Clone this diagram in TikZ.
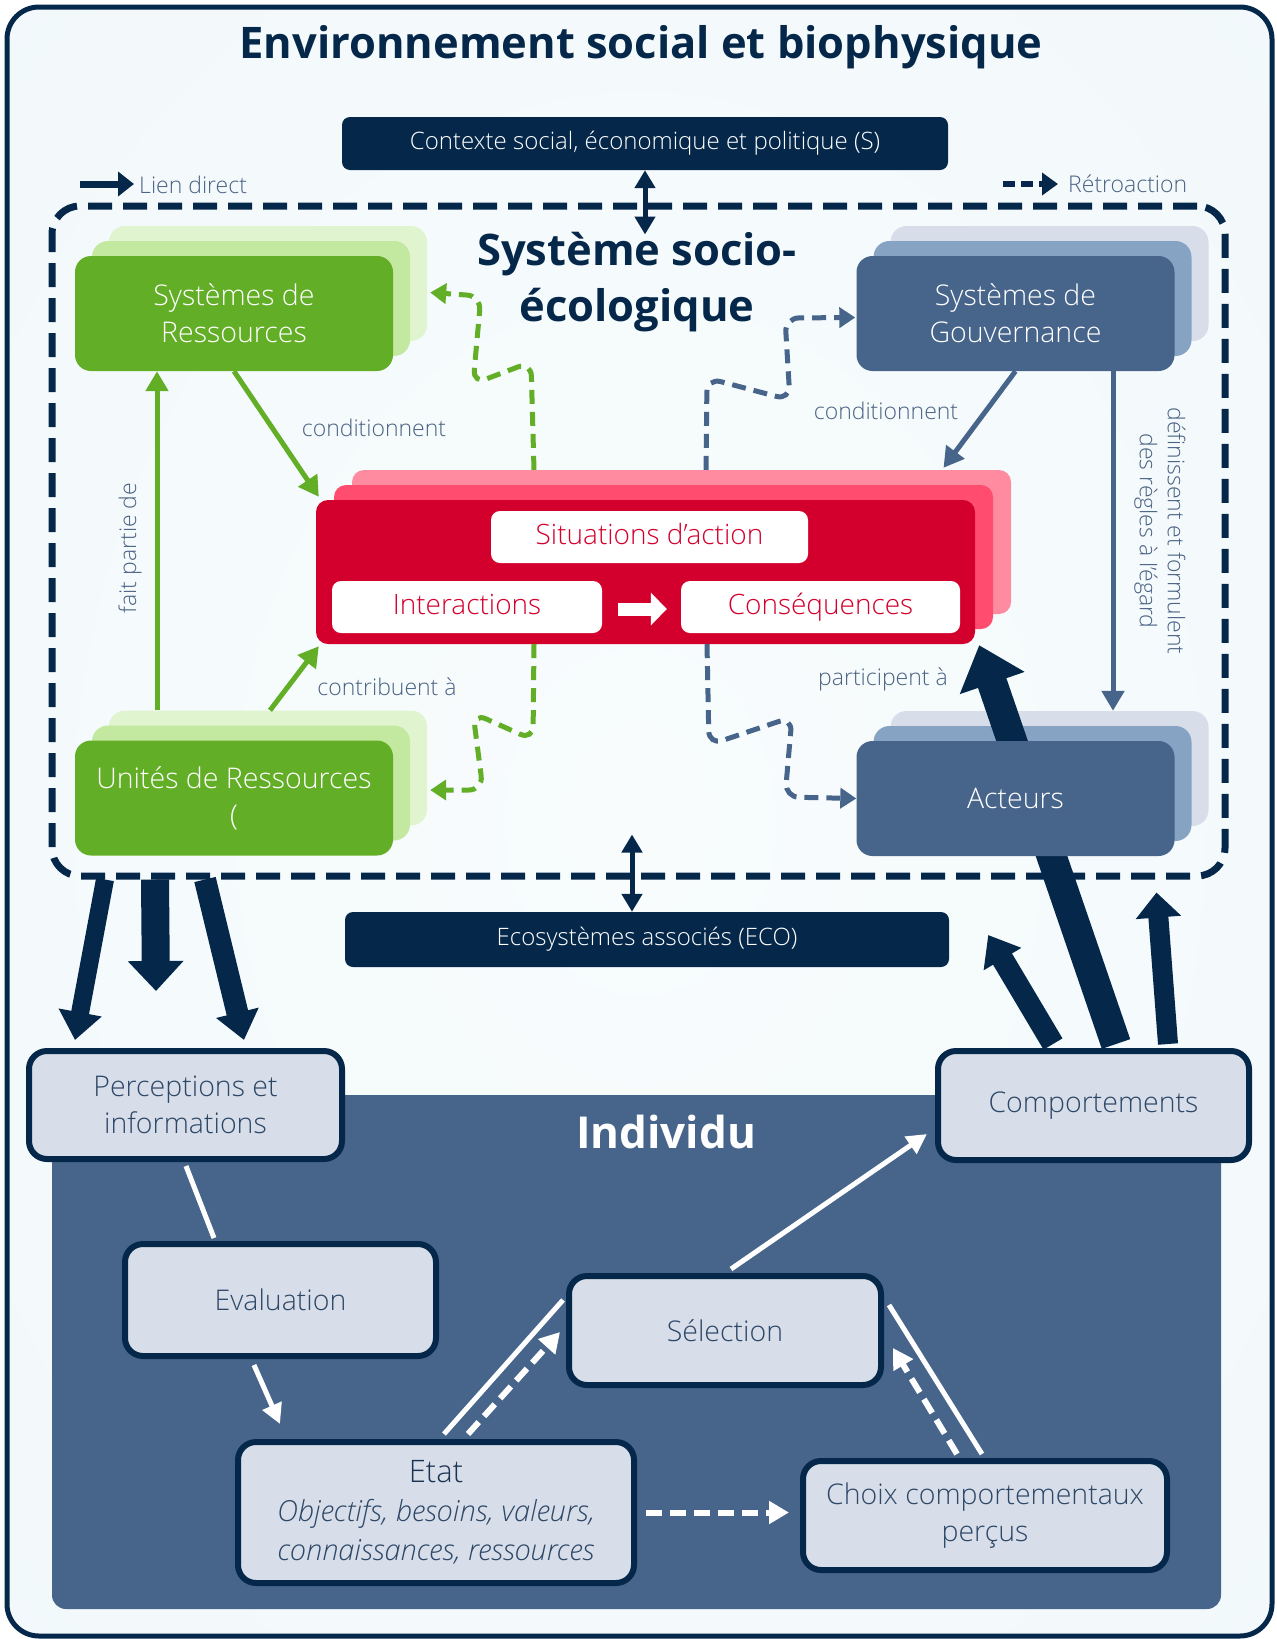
\documentclass[tikz,border=0pt]{standalone}
\usepackage{fontspec}
\setmainfont{Open Sans Light}[BoldFont={Open Sans Bold}, ItalicFont={Open Sans Light Italic}]
\usetikzlibrary{arrows.meta,calc}
\pgfdeclarelayer{background}
\pgfdeclarelayer{back}
\pgfdeclarelayer{mid}
\pgfsetlayers{background,back,mid,main}
\definecolor{navy}{HTML}{05284A}
\definecolor{slate}{HTML}{47658A}
\definecolor{labeltext}{HTML}{4A6283}
\definecolor{boxtext}{HTML}{2D4767}
\definecolor{etattext}{HTML}{1B3353}
\definecolor{green1}{HTML}{63AE27}
\definecolor{green2}{HTML}{C3E89F}
\definecolor{green3}{HTML}{E0F4CF}
\definecolor{blue2}{HTML}{87A3C4}
\definecolor{blue3}{HTML}{D7DEE9}
\definecolor{red1}{HTML}{D3002D}
\definecolor{red2}{HTML}{FF4C6F}
\definecolor{red3}{HTML}{FF8BA0}
\definecolor{lbox}{HTML}{D7DEE9}
\definecolor{bgin}{HTML}{F8FCFD}
\definecolor{bgmid}{HTML}{F3F9FB}
\definecolor{bgout}{HTML}{EBF5F9}
\definecolor{bgcorner}{HTML}{DCEEF6}
\pgfdeclareradialshading{bgshade}{\pgfpoint{0bp}{0bp}}{color(0bp)=(bgin); color(32bp)=(bgmid); color(50bp)=(bgout); color(71bp)=(bgcorner)}
\newcommand\fsz[2]{\fontsize{#1}{#2}\selectfont}
\tikzset{
 stackbox/.style={rectangle, rounded corners=16pt, minimum width=318pt, minimum height=115pt, inner sep=0pt, align=center, text=white, font=\fsz{28.5}{37}},
 lightbox/.style={rectangle, rounded corners=18pt, draw=navy, line width=6pt, fill=lbox, text=boxtext, align=center, font=\fsz{28.5}{37}, inner sep=0pt},
 darkbar/.style={rectangle, rounded corners=8pt, fill=navy, text=white, font=\fsz{24}{28}, inner sep=0pt},
 whitebox/.style={rectangle, rounded corners=9pt, fill=white, text=red1, font=\fsz{28}{34}, inner sep=0pt, minimum height=52pt, text height=21pt, text depth=7pt},
 lbl/.style={text=labeltext, font=\fsz{23}{28}, inner sep=0pt},
 garrow/.style={draw=green1, line width=5pt, -{Triangle[width=22pt,length=20pt]}},
 barrow/.style={draw=slate, line width=5pt, -{Triangle[width=22pt,length=20pt]}},
 gdash/.style={draw=green1, line width=5pt, dash pattern=on 14pt off 8pt, rounded corners=14pt, -{Triangle[width=20pt,length=16pt]}},
 bdash/.style={draw=slate, line width=5pt, dash pattern=on 14pt off 8pt, rounded corners=14pt, -{Triangle[width=20pt,length=16pt]}},
 dbl/.style={draw=navy, line width=5pt, {Triangle[width=20pt,length=18pt]}-{Triangle[width=20pt,length=18pt]}},
 warrow/.style={draw=white, line width=5pt, -{Triangle[width=20pt,length=20pt]}},
 wline/.style={draw=white, line width=5pt},
 wdash/.style={draw=white, line width=6pt, dash pattern=on 16pt off 8pt, -{Triangle[width=22pt,length=20pt]}},
}
\begin{document}
\begin{tikzpicture}[x=1pt,y=-1pt]
\useasboundingbox (0,0) rectangle (1277,1639);
\begin{pgfonlayer}{background}
\shade[rounded corners=32pt, shading=bgshade] (7,7) rectangle (1272,1636);
\draw[navy, line width=5pt, rounded corners=32pt] (7,7) rectangle (1272,1636);
\end{pgfonlayer}

% title
\node[font=\fsz{43.5}{50}\bfseries, text=navy] (title) at (641,47) {Environnement social et biophysique};

% context bar
\node[darkbar, minimum width=606pt, minimum height=53pt] (CT) at (645,143.5) {Contexte social, économique et politique (S)};

% legend
\node[lbl, anchor=west] (LD) at (139,185) {Lien direct};
\draw[navy, line width=7pt, -{Triangle[width=24pt,length=16pt]}] ($(LD.west)+(-59,-1)$) -- ($(LD.west)+(-5,-1)$);
\node[lbl, anchor=west] (RT) at (1068,184) {Rétroaction};
\draw[navy, line width=6pt, dash pattern=on 12pt off 6pt, -{Triangle[width=22pt,length=16pt]}] ($(RT.west)+(-65,0)$) -- ($(RT.west)+(-10,0)$);

% socio-ecological system frame and stacked layers
\begin{pgfonlayer}{back}
\node[draw=navy, line width=7pt, dash pattern=on 24pt off 11pt, rounded corners=28pt, minimum width=1173pt, minimum height=670pt, inner sep=0pt] (SES) at (638.5,541) {};
\node[stackbox, fill=green3] (RS3) at (268,283.5) {};
\node[stackbox, fill=green2] (RS2) at (251,298.5) {};
\node[stackbox, fill=blue3] (GS3) at (1049.5,283.5) {};
\node[stackbox, fill=blue2] (GS2) at (1032.5,298.5) {};
\node[stackbox, fill=green3] (RU3) at (268,768) {};
\node[stackbox, fill=green2] (RU2) at (251,783) {};
\node[stackbox, fill=blue3] (A3) at (1049.5,768.5) {};
\node[stackbox, fill=blue2] (A2) at (1032.5,783.5) {};
\node[fill=red3, rounded corners=12pt, minimum width=659pt, minimum height=144pt, inner sep=0pt] (R3) at (681.5,542) {};
\node[fill=red2, rounded corners=12pt, minimum width=659pt, minimum height=144pt, inner sep=0pt] (R2) at (663.5,557) {};
\end{pgfonlayer}

\node[font=\fsz{43.5}{56}\bfseries, text=navy, align=center] (sestitle) at (637,282) {Système socio-\\écologique};

% front boxes
\node[stackbox, fill=green1] (RS) at (234,313.5) {Systèmes de\\Ressources};
\node[stackbox, fill=slate] (GS) at (1015.5,313.5) {Systèmes de\\Gouvernance};
\node[stackbox, fill=green1] (RU) at (234,798) {Unités de Ressources\\(};
\node[stackbox, fill=slate] (A) at (1015.5,798.5) {Acteurs};
\node[fill=red1, rounded corners=12pt, minimum width=659pt, minimum height=144pt, inner sep=0pt] (R) at (645.5,572) {};
\node[whitebox, minimum width=317pt] (SA) at (649.5,537) {Situations d’action};
\node[whitebox, minimum width=270pt] (INT) at (467,607) {Interactions};
\node[whitebox, minimum width=279pt] (CONS) at (820.5,607) {Conséquences};
\draw[white, line width=13pt, -{Triangle[width=32pt,length=16pt]}] ($(INT.east)+(16,2)$) -- ($(CONS.west)+(-14,2)$);

% labels
\node[lbl] (l1) at (374,428) {conditionnent};
\node[lbl, rotate=90] (l2) at (130,548) {fait partie de};
\node[lbl] (l3) at (387,687) {contribuent à};
\node[lbl] (l4) at (886,411) {conditionnent};
\node[lbl] (l5) at (883,679) {participent à};
\node[lbl, rotate=-90, align=center] (l6) at (1160,531) {définissent et formulent\\des règles à l’égard};

% coloured links
\draw[garrow] ($(RU3.north)+(-111,0)$) -- ($(RS.south)+(-77,0)$);
\draw[garrow] (RS.south) -- ($(R.north west)+(3,-3)$);
\draw[garrow] ($(RU3.north)+(2,0)$) -- ($(R.south west)+(3,2)$);
\draw[barrow] (GS.south) -- ($(R3.north)+(262,-2)$);
\draw[barrow] ($(GS.south)+(97.5,0)$) -- ($(A3.north)+(63.5,0)$);

% feedback (dashed) links
\draw[gdash] ($(R3.north)+(-147.5,0)$) -- (531,362) -- (473,384) -- (481,296) -- ($(RS3.east)+(3,9)$);
\draw[bdash] ($(R3.north)+(24.5,0)$) -- (707,378) -- (790,400) -- (785,318) -- ($(GS.west)+(-1,4)$);
\draw[gdash] ($(R.south)+(-111.5,0)$) -- (533,740) -- (473,713) -- (483,790) -- ($(RU3.east)+(3,22)$);
\draw[bdash] ($(R.south)+(61.5,0)$) -- (709,745) -- (792,717) -- (785,797) -- (A.west);

% ecosystems bar
\node[darkbar, minimum width=604pt, minimum height=55pt] (ECO) at (647,939.5) {Ecosystèmes associés (ECO)};
\draw[dbl] (CT.south) -- ($(SES.north)+(6.5,32)$);
\draw[dbl] ($(SES.south)+(-6.5,-45)$) -- ($(ECO.north)+(-15,0)$);

% individual panel
\node[fill=slate, rounded corners=14pt, minimum width=1169pt, minimum height=514pt, inner sep=0pt] (IND) at (636.5,1352) {};
\node[font=\fsz{44}{50}\bfseries, text=white] (indt) at (666,1132) {Individu};

\node[lightbox, minimum width=313pt, minimum height=108pt] (PI) at (185.5,1105) {Perceptions et\\informations};
\node[lightbox, minimum width=311pt, minimum height=112pt] (EV) at (280.5,1300) {Evaluation};
\node[lightbox, minimum width=396pt, minimum height=141pt, font=\fsz{29}{39}] (ET) at (436,1512.5) {{\fsz{31}{39}\color{etattext}Etat}\\{\itshape Objectifs, besoins, valeurs,}\\{\itshape connaissances, ressources}};
\node[lightbox, minimum width=312pt, minimum height=109pt] (SEL) at (725,1330.5) {Sélection};
\node[lightbox, minimum width=364pt, minimum height=109pt] (CH) at (985,1515.5) {Choix comportementaux\\perçus};
\node[lightbox, minimum width=311pt, minimum height=109pt] (COM) at (1093.5,1105.5) {Comportements};

% white links inside the individual
\draw[wline] ($(PI.south)+(0.5,4)$) -- ($(EV.north)+(-66.5,-3)$);
\draw[warrow] ($(EV.south)+(-26.5,6)$) -- ($(ET.north)+(-156,-15)$);
\draw[wline] ($(ET.north)+(8,-5)$) -- ($(SEL.west)+(-3,-30.5)$);
\draw[wdash] ($(ET.north)+(32,-5)$) -- ($(SEL.west)+(-6,1.5)$);
\draw[warrow] ($(SEL.north)+(6,-4)$) -- ($(COM.west)+(-8,28.5)$);
\draw[wline] ($(CH.north)+(-3,-4)$) -- ($(SEL.east)+(5,-25.5)$);
\draw[wdash] ($(CH.north)+(-28,-4)$) -- ($(SEL.east)+(9,17.5)$);
\draw[wdash] ($(ET.east)+(9,0)$) -- ($(CH.west)+(-11,-3)$);

% big navy arrows
\begin{pgfonlayer}{mid}
\draw[navy, line width=18pt, -{Triangle[width=42pt,length=28pt]}] ($(SES.south)+(-533.5,0)$) -- ($(PI.north)+(-110.5,-8)$);
\draw[navy, line width=28pt, -{Triangle[width=54pt,length=30pt]}] ($(SES.south)+(-483.5,0)$) -- ($(PI.north)+(-29.5,-57)$);
\draw[navy, line width=22pt, -{Triangle[width=42pt,length=28pt]}] ($(SES.south)+(-433.5,0)$) -- ($(PI.north)+(58.5,-8)$);
\draw[navy, line width=30pt, -{Triangle[width=66pt,length=40pt]}] ($(COM.north)+(22.5,-4)$) -- ($(R.south east)+(4,1)$);
\draw[navy, line width=22pt, -{Triangle[width=42pt,length=28pt]}] ($(COM.north)+(-40.5,-4)$) -- ($(ECO.east)+(39,-4.5)$);
\draw[navy, line width=20pt, -{Triangle[width=44pt,length=25pt]}] ($(COM.north)+(74.5,-4)$) -- ($(SES.south east)+(-72,13)$);
\end{pgfonlayer}
\end{tikzpicture}
\end{document}
